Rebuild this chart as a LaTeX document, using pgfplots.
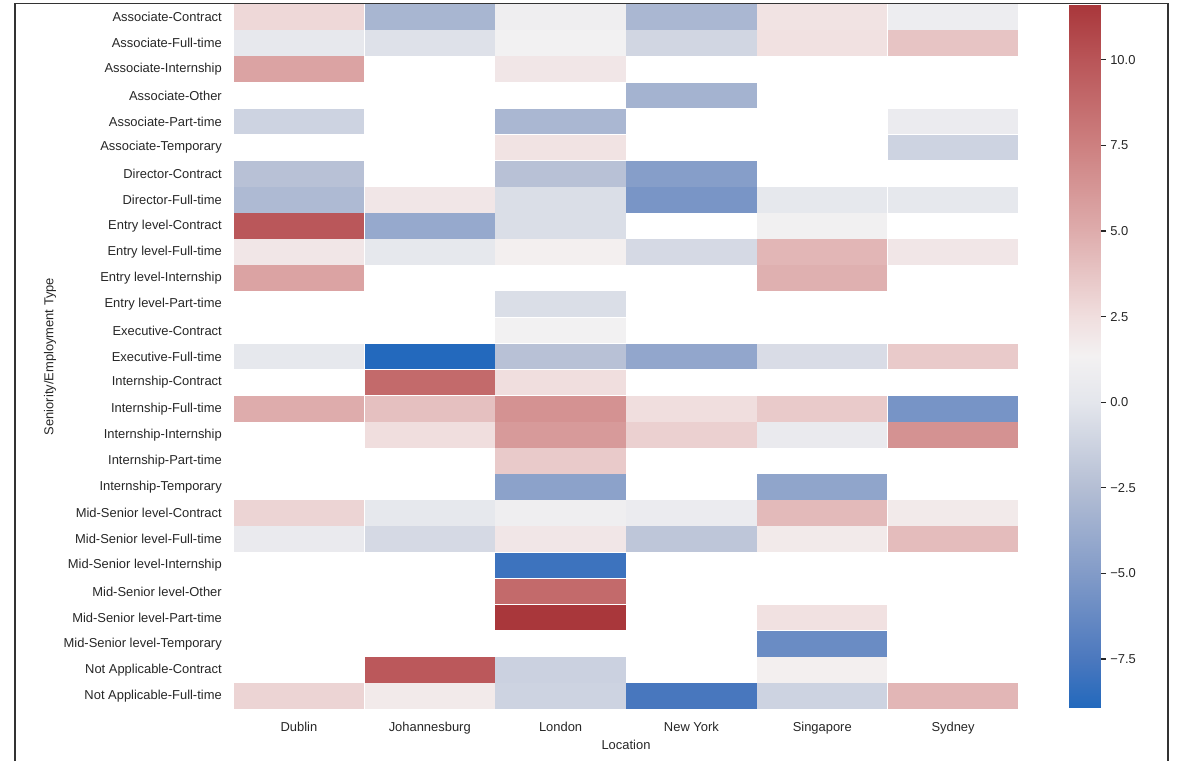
\documentclass[border=0pt]{standalone}
\usepackage{pgfplots}
\usepackage{pgfplotstable}
\usepackage{fontspec}
\setmainfont{Liberation Sans}
\pgfplotsset{compat=1.18}
\pgfplotsset{colormap={vlag}{rgb255(0pt)=(35,105,189); rgb255(68pt)=(75,120,190); rgb255(190pt)=(130,155,200); rgb255(312pt)=(180,190,212); rgb255(434pt)=(228,230,236); rgb255(500pt)=(243,241,242); rgb255(556pt)=(240,222,222); rgb255(678pt)=(222,172,172); rgb255(800pt)=(205,128,128); rgb255(922pt)=(185,85,88); rgb255(1000pt)=(169,55,59)}}
\newcommand{\lf}{\fontsize{9.7}{11.6}\selectfont}
\pgfplotstableread{
x y c
0 1 2.8
1 1 -3.1
2 1 1.0
3 1 -3.0
4 1 2.2
5 1 0.8
0 2 0.3
1 2 -0.3
2 2 1.3
3 2 -1.0
4 2 2.3
5 2 3.8
0 3 5.5
2 3 2.0
3 4 -3.3
0 5 -1.2
2 5 -3.0
5 5 0.6
2 6 2.2
5 6 -1.2
0 7 -2.3
2 7 -2.3
3 7 -4.8
0 8 -2.8
1 8 2.0
2 8 -0.5
3 8 -5.4
4 8 0.2
5 8 0.2
0 9 9.9
1 9 -4.0
2 9 -0.5
4 9 1.2
0 10 2.0
1 10 0.2
2 10 1.5
3 10 -0.8
4 10 4.5
5 10 2.0
0 11 5.5
4 11 4.8
2 12 -0.5
2 13 1.3
0 14 0.2
1 14 -8.9
2 14 -2.3
3 14 -4.2
4 14 -0.6
5 14 3.5
1 15 8.8
2 15 2.5
0 16 5.0
1 16 4.0
2 16 6.5
3 16 2.5
4 16 3.5
5 16 -5.5
1 17 2.5
2 17 6.0
3 17 3.2
4 17 0.5
5 17 6.5
2 18 3.5
2 19 -4.5
4 19 -4.3
0 20 3.0
1 20 0.2
2 20 1.0
3 20 0.6
4 20 4.3
5 20 1.8
0 21 0.5
1 21 -0.8
2 21 2.0
3 21 -2.0
4 21 1.8
5 21 4.2
2 22 -8.0
2 23 8.8
2 24 11.6
4 24 2.3
4 25 -6.1
1 26 9.8
2 26 -1.3
4 26 1.5
0 27 3.0
1 27 1.8
2 27 -1.2
3 27 -7.6
4 27 -1.2
5 27 4.5
}\cells
\begin{document}
\begin{tikzpicture}
\useasboundingbox (0,0) rectangle (882.75pt,-570.75pt);
\begin{axis}[
  at={(175.125pt,-3pt)}, anchor=north west,
  scale only axis, width=588.75pt, height=528.75pt,
  xmin=-0.5, xmax=5.5, ymin=0.5, ymax=27.5, y dir=reverse,
  xtick={0,...,5},
  xticklabels={Dublin,Johannesburg,London,New York,Singapore,Sydney},
  ytick={1,...,27},
  yticklabels={Associate-Contract,Associate-Full-time,Associate-Internship,Associate-Other,Associate-Part-time,Associate-Temporary,Director-Contract,Director-Full-time,Entry level-Contract,Entry level-Full-time,Entry level-Internship,Entry level-Part-time,Executive-Contract,Executive-Full-time,Internship-Contract,Internship-Full-time,Internship-Internship,Internship-Part-time,Internship-Temporary,Mid-Senior level-Contract,Mid-Senior level-Full-time,Mid-Senior level-Internship,Mid-Senior level-Other,Mid-Senior level-Part-time,Mid-Senior level-Temporary,Not Applicable-Contract,Not Applicable-Full-time},
  major tick length=0pt,
  axis line style={draw=none},
  tick label style={font=\lf, text=black!85},
  yticklabel style={inner sep=0pt, xshift=-8.6pt},
  xticklabel style={inner sep=0pt, yshift=-9.3pt},
  xlabel={Location}, ylabel={Seniority/Employment Type},
  label style={font=\lf, text=black!85, inner sep=0pt},
  xlabel style={at={(axis description cs:0.5,0)}, anchor=north, yshift=-22.8pt},
  ylabel style={at={(axis description cs:-0.2338,0.5)}, anchor=center},
  colormap name=vlag,
  point meta min=-8.9, point meta max=11.6,
]
\addplot[scatter, only marks, mark=square*, mark size=9.23pt,
  mark options={xscale=5.255, line width=0pt},
  scatter/use mapped color={draw=mapped color, fill=mapped color},
  point meta=explicit] table[x=x, y=y, meta=c] {\cells};
\end{axis}
\begin{axis}[
  at={(801.75pt,-3.75pt)}, anchor=north west,
  scale only axis, width=23.25pt, height=526.5pt,
  xmin=0, xmax=1, ymin=-8.9, ymax=11.6,
  axis x line=none, axis y line*=right,
  y axis line style={draw opacity=0},
  ytick={-7.5,-5,-2.5,0,2.5,5,7.5,10},
  yticklabels={−7.5,−5.0,−2.5,0.0,2.5,5.0,7.5,10.0},
  tick align=outside, major tick length=4.5pt,
  tick style={black!85, line width=0.9pt},
  yticklabel style={font=\lf, text=black!85, inner sep=0pt, xshift=3pt},
  colormap name=vlag,
  point meta min=-8.9, point meta max=11.6,
]
\addplot[patch, patch type=rectangle, shader=interp, point meta=y] coordinates {(0,-8.9) (1,-8.9) (1,11.6) (0,11.6)};
\end{axis}
\draw[line width=1.1pt, black!80] (11.25pt,-570.75pt) -- (11.25pt,-2.5pt) -- (876pt,-2.5pt) -- (876pt,-570.75pt);
\end{tikzpicture}
\end{document}
